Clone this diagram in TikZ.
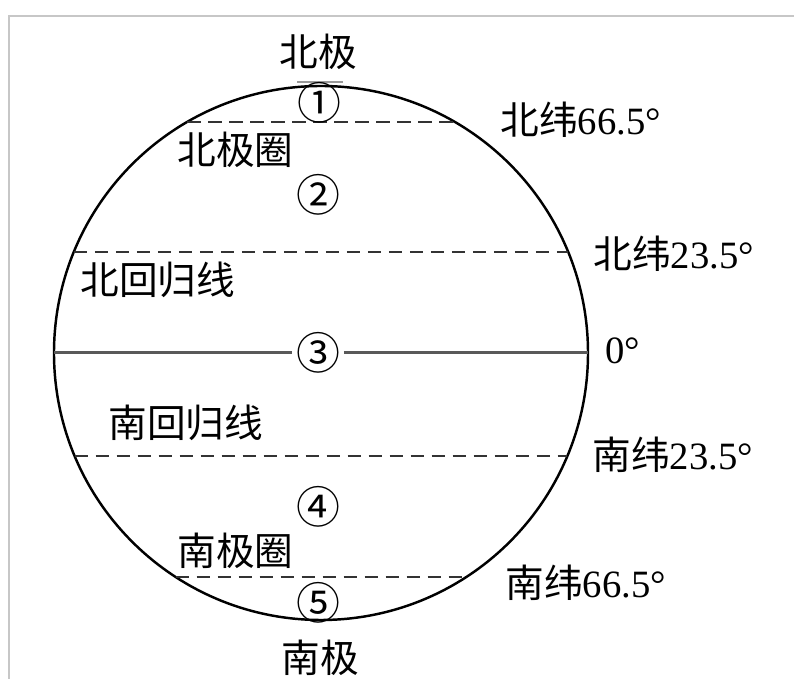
\documentclass[tikz,border=0pt]{standalone}
\usepackage{fontspec}
\setmainfont{Liberation Serif}
\newfontfamily\cjk{Noto Sans CJK SC}
\begin{document}
\begin{tikzpicture}[>=latex,
    lat/.style={dashed,dash pattern=on 0.27cm off 0.15cm,line width=1.3pt,black!80},
    lbl/.style={inner sep=0pt,font=\fontsize{22}{24}\selectfont},
    num/.style={inner sep=0pt,font=\cjk\fontsize{25}{28}\selectfont}]
\useasboundingbox (-6.42,-6.52) rectangle (9.46,7.06);
\draw[black!22,line width=0.8pt] (-6.24,-6.52)--(-6.24,6.74)--(9.46,6.74);
\draw[line width=1.4pt] (0,0) circle (5.34);
\draw[black!40,line width=1.2pt] (-0.48,5.42)--(0.44,5.42);
\foreach \y in {4.62,2.02,-2.06,-4.48}
{
    \draw[lat] ({-sqrt(5.34*5.34-(\y)*(\y))},\y)--({sqrt(5.34*5.34-(\y)*(\y))},\y);
}
\coordinate (eqW) at (-5.34,0);
\coordinate (eqE) at (5.34,0);
\node[num,inner sep=2pt] (n3) at (-0.06,0){③};
\draw[black!65,line width=1.7pt] (eqW)--(n3.west) (n3.east)--(eqE);

\node[num] (n1) at (-0.04,5.0){①};
\node[num] (n2) at (-0.06,3.16){②};
\node[num] (n4) at (-0.06,-3.08){④};
\node[num] (n5) at (-0.06,-5.0){⑤};

\node[lbl] (bj) at (-0.06,6.02){\cjk 北极};
\node[lbl] (nj) at (-0.02,-6.1){\cjk 南极};
\node[lbl] (bjq) at (-2.88,4.06)[right]{\cjk 北极圈};
\node[lbl] (njq) at (-2.88,-3.96)[right]{\cjk 南极圈};
\node[lbl] (bhg) at (-4.82,1.46)[right]{\cjk 北回归线};
\node[lbl] (nhg) at (-4.26,-1.40)[right]{\cjk 南回归线};

\node[lbl] (bw66) at (3.58,4.66)[right]{{\cjk 北纬}66.5°};
\node[lbl] (bw23) at (5.44,1.98)[right]{{\cjk 北纬}23.5°};
\node[lbl] (eq) at (5.68,0.04)[right]{0°};
\node[lbl] (nw23) at (5.42,-2.04)[right]{{\cjk 南纬}23.5°};
\node[lbl] (nw66) at (3.68,-4.6)[right]{{\cjk 南纬}66.5°};
\end{tikzpicture}
\end{document}
